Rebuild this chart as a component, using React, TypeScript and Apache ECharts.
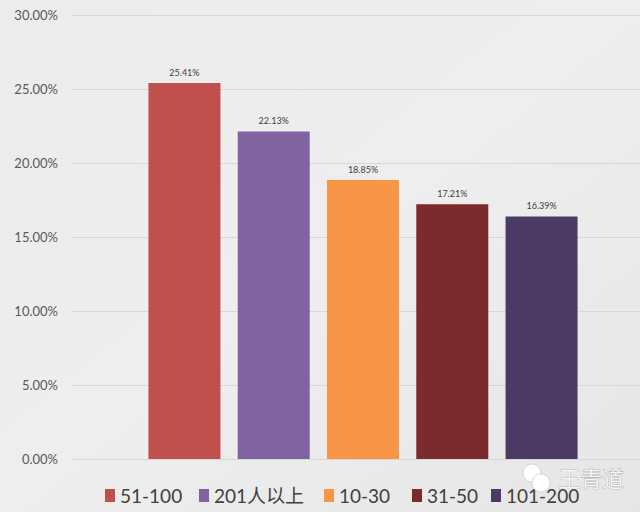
import React, { useEffect, useRef } from "react";
import * as echarts from "echarts";

const categories = [""];
const seriesNames = ["51-100", "201人以上", "10-30", "31-50", "101-200"];
const seriesValues = [25.41, 22.13, 18.85, 17.21, 16.39];
const seriesColors = ["#C0504D", "#8064A2", "#F79646", "#7B2A2E", "#4B3A63"];
const yTicks = { min: 0, max: 30, interval: 5 };
const watermark = "王青道";

const FONT = 'Lato, "Noto Sans CJK SC", sans-serif';
const legendLefts = [100, 194, 319, 407, 486];

export default function App() {
  const ref = useRef<HTMLDivElement>(null);
  useEffect(() => {
    if (!ref.current) return;
    const chart = echarts.init(ref.current, null, { renderer: "svg" });
    chart.setOption({
      animation: false,
      backgroundColor: {
        type: "linear",
        x: 0, y: 0, x2: 1, y2: 1,
        colorStops: [
          { offset: 0, color: "#ececec" },
          { offset: 0.5, color: "#eeeeee" },
          { offset: 1, color: "#e6e6e6" },
        ],
      },
      textStyle: { fontFamily: FONT },
      grid: [
        { left: 72, right: 0, top: 15, bottom: 53 },
        { left: 86, right: 0, top: 15, bottom: 53 },
      ],
      legend: seriesNames.map((name, i) => ({
        left: legendLefts[i],
        top: 481,
        icon: "rect",
        itemWidth: 10,
        itemHeight: 13,
        itemGap: 0,
        textStyle: { fontSize: 19, color: "#404040", fontFamily: FONT },
        data: [name],
      })),
      xAxis: [
        {
          type: "category",
          gridIndex: 0,
          data: categories,
          axisLine: { show: true, lineStyle: { color: "#d6d6d6" } },
          axisTick: { show: false },
          axisLabel: { show: false },
        },
        {
          type: "category",
          gridIndex: 1,
          data: categories,
          axisLine: { show: false },
          axisTick: { show: false },
          axisLabel: { show: false },
        },
      ],
      yAxis: [
        {
          type: "value",
          gridIndex: 0,
          min: yTicks.min,
          max: yTicks.max,
          interval: yTicks.interval,
          axisLine: { show: false },
          axisTick: { show: false },
          splitLine: { lineStyle: { color: "#d8d8d8" } },
          axisLabel: {
            margin: 14,
            fontSize: 13,
            color: "#595959",
            fontFamily: FONT,
            formatter: (v: number) => v.toFixed(2) + "%",
          },
        },
        {
          type: "value",
          gridIndex: 1,
          min: yTicks.min,
          max: yTicks.max,
          interval: yTicks.interval,
          show: false,
          splitLine: { show: false },
        },
      ],
      series: seriesNames.map((name, i) => ({
        name,
        type: "bar",
        xAxisIndex: 1,
        yAxisIndex: 1,
        data: [seriesValues[i]],
        barWidth: 72,
        barGap: "24%",
        itemStyle: { color: seriesColors[i] },
        label: {
          show: true,
          position: "top",
          distance: 6,
          fontSize: 9,
          color: "#404040",
          fontFamily: FONT,
          formatter: (p: any) => Number(p.value).toFixed(2) + "%",
        },
      })),
      graphic: [
        {
          type: "circle",
          z: 100,
          shape: { cx: 532, cy: 473, r: 9 },
          style: { fill: "#ffffff", stroke: "#cccccc", lineWidth: 0.8 },
        },
        {
          type: "circle",
          z: 101,
          shape: { cx: 541, cy: 483, r: 9 },
          style: { fill: "#ffffff", stroke: "#cccccc", lineWidth: 0.8 },
        },
        {
          type: "text",
          z: 100,
          left: 558,
          top: 466,
          style: {
            text: watermark,
            font: '22px "Noto Sans CJK SC", sans-serif',
            fill: "#f4f4f4",
            stroke: "#9a9a9a",
            lineWidth: 0.6,
          },
        },
      ],
    });
    return () => chart.dispose();
  }, []);
  return (
    <div
      ref={ref}
      style={{ position: "fixed", left: 0, top: 0, width: 640, height: 512 }}
    />
  );
}
